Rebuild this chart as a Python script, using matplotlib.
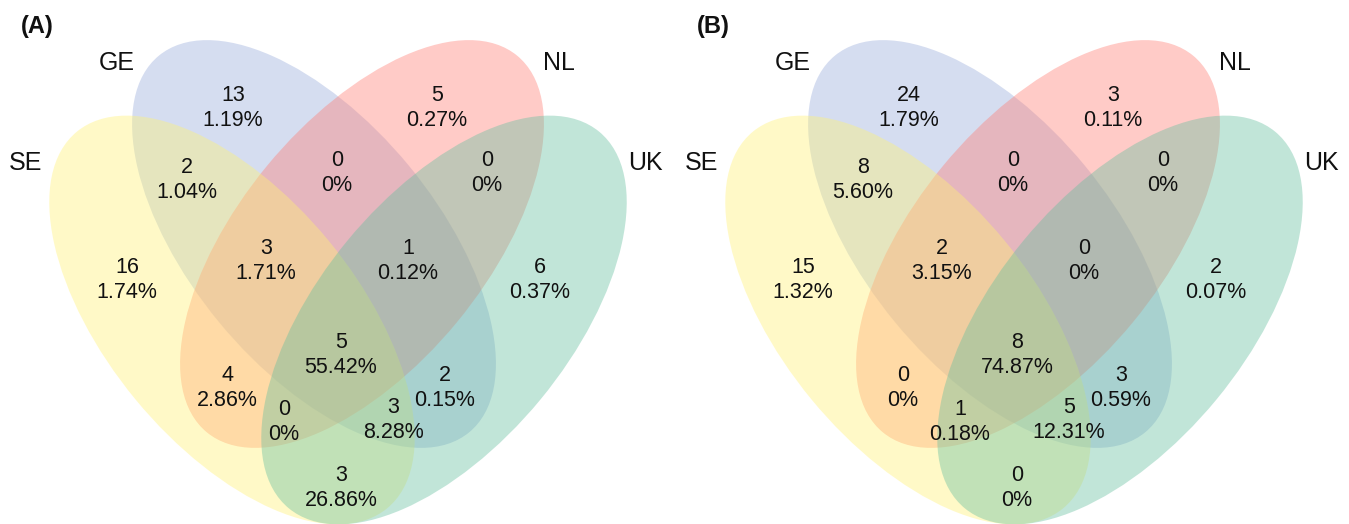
import matplotlib
matplotlib.use('Agg')
import matplotlib.pyplot as plt
from matplotlib.patches import Ellipse

plt.rcParams['font.family'] = ['Liberation Sans', 'DejaVu Sans']

# sets (SE, GE, NL, UK)
sets = ['SE', 'GE', 'NL', 'UK']
colors = ['#fff275', '#98aadb', '#ff7d73', '#65bf9f']
draw_order = [1, 2, 0, 3]   # GE, NL, SE, UK  -> gives the overlap tints

# regions as membership of (SE, GE, NL, UK)
regions = ['1000', '0100', '0010', '0001', '1100', '0110', '0011',
           '1110', '0111', '1111', '1010', '0101', '1011', '1101', '1001']

counts_a = [16, 13, 5, 6, 2, 0, 0, 3, 1, 5, 4, 2, 0, 3, 3]
pct_a = ['1.74%', '1.19%', '0.27%', '0.37%', '1.04%', '0%', '0%', '1.71%',
         '0.12%', '55.42%', '2.86%', '0.15%', '0%', '8.28%', '26.86%']

counts_b = [15, 24, 3, 2, 8, 0, 0, 2, 0, 8, 0, 3, 1, 5, 0]
pct_b = ['1.32%', '1.79%', '0.11%', '0.07%', '5.60%', '0%', '0%', '3.15%',
         '0%', '74.87%', '0%', '0.59%', '0.18%', '12.31%', '0%']

panels = ['(A)', '(B)']

# layout in pixels (y down), one panel
ell_xy = [(232, 320), (314, 244), (362, 244), (444, 320)]
ell_ang = [-129.5, -129.5, -50.5, -50.5]
ell_w = [488, 488, 488, 488]
ell_h = [250, 246, 246, 250]
lab_xy = {'1000': (127, 280), '0100': (233, 108), '0010': (437, 108),
          '0001': (540, 280), '1100': (187, 180), '0110': (337, 173),
          '0011': (487, 173), '1110': (266, 261), '0111': (408, 261),
          '1111': (341, 355), '1010': (227, 388), '0101': (445, 388),
          '1011': (284, 422), '1101': (393, 420), '1001': (341, 488)}
set_xy = [(26, 163), (117, 63), (559, 63), (645, 163)]

fig = plt.figure(figsize=(13.49, 5.24), dpi=100)
ax = fig.add_axes([0, 0, 1, 1])
ax.set_xlim(0, 1349)
ax.set_ylim(524, 0)
ax.axis('off')

for k, (counts, pcts) in enumerate([(counts_a, pct_a), (counts_b, pct_b)]):
    off = k * 676
    for i in draw_order:
        e = Ellipse((ell_xy[i][0] + off, ell_xy[i][1]), ell_w[i], ell_h[i],
                    angle=ell_ang[i], facecolor=colors[i], alpha=0.4,
                    edgecolor='none')
        ax.add_patch(e)
    for r, c, p in zip(regions, counts, pcts):
        x, y = lab_xy[r]
        ax.text(x + off, y, '%d\n%s' % (c, p), ha='center', va='center',
                fontsize=15.5, linespacing=1.2, color='#111111')
    for i in range(4):
        ax.text(set_xy[i][0] + off, set_xy[i][1], sets[i], ha='center',
                va='center', fontsize=18, color='#111111')
    ax.text(37 + off, 26, panels[k], ha='center', va='center', fontsize=17,
            fontweight='bold', color='#111111')

fig.savefig('out.png', dpi=100)
